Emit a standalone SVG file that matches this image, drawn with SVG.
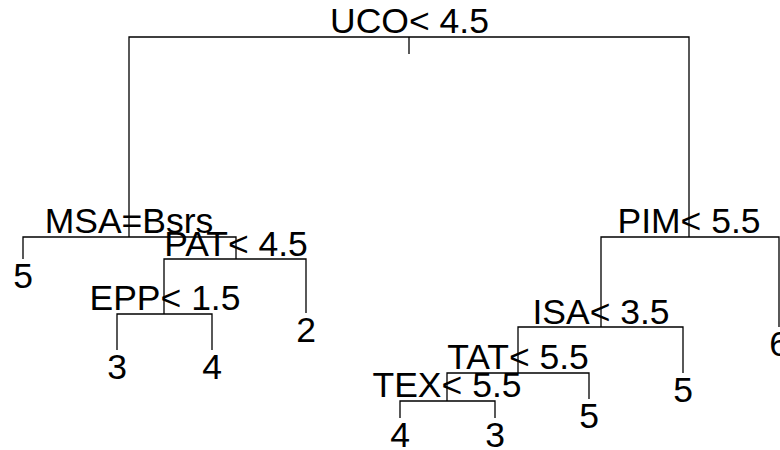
<svg xmlns="http://www.w3.org/2000/svg" width="780" height="450" viewBox="0 0 780 450">
  <style>
    .branch { fill: none; stroke: #000; stroke-width: 1.3; }
    text { font-family: "Liberation Sans", Arial, sans-serif; font-size: 35.5px; fill: #000; text-anchor: middle; }
  </style>
  <rect width="780" height="450" fill="#fff"/>
  <!-- tree branches -->
  <g id="connectors" class="branch">
    <path d="M409,37 V54"/>
    <path d="M129,237 V37 H689 V237"/>
    <path d="M23,259 V237 H236 V259"/>
    <path d="M164,314 V259 H306 V313"/>
    <path d="M117,350 V314 H212 V350"/>
    <path d="M601,327 V237 H779 V327"/>
    <path d="M518,373 V327 H683 V373"/>
    <path d="M447,401 V373 H589 V399"/>
    <path d="M400,418 V401 H495 V418"/>
  </g>
  <!-- split nodes -->
  <g id="node-uco"><text x="409.5" y="33">UCO&lt; 4.5</text></g>
  <g id="node-msa"><text x="129" y="233">MSA=Bsrs</text></g>
  <g id="node-pat"><text x="236" y="256">PAT&lt; 4.5</text></g>
  <g id="node-epp"><text x="165" y="310">EPP&lt; 1.5</text></g>
  <g id="node-pim"><text x="689" y="233">PIM&lt; 5.5</text></g>
  <g id="node-isa"><text x="601" y="324">ISA&lt; 3.5</text></g>
  <g id="node-tat"><text x="518" y="369">TAT&lt; 5.5</text></g>
  <g id="node-tex"><text x="447" y="397">TEX&lt; 5.5</text></g>
  <!-- leaves -->
  <g id="leaf-1"><text x="23" y="288">5</text></g>
  <g id="leaf-2"><text x="306" y="342">2</text></g>
  <g id="leaf-3"><text x="117" y="379">3</text></g>
  <g id="leaf-4"><text x="212" y="379">4</text></g>
  <g id="leaf-5"><text x="779" y="356">6</text></g>
  <g id="leaf-6"><text x="683" y="402">5</text></g>
  <g id="leaf-7"><text x="589" y="428">5</text></g>
  <g id="leaf-8"><text x="400" y="447">4</text></g>
  <g id="leaf-9"><text x="495" y="447">3</text></g>
</svg>
